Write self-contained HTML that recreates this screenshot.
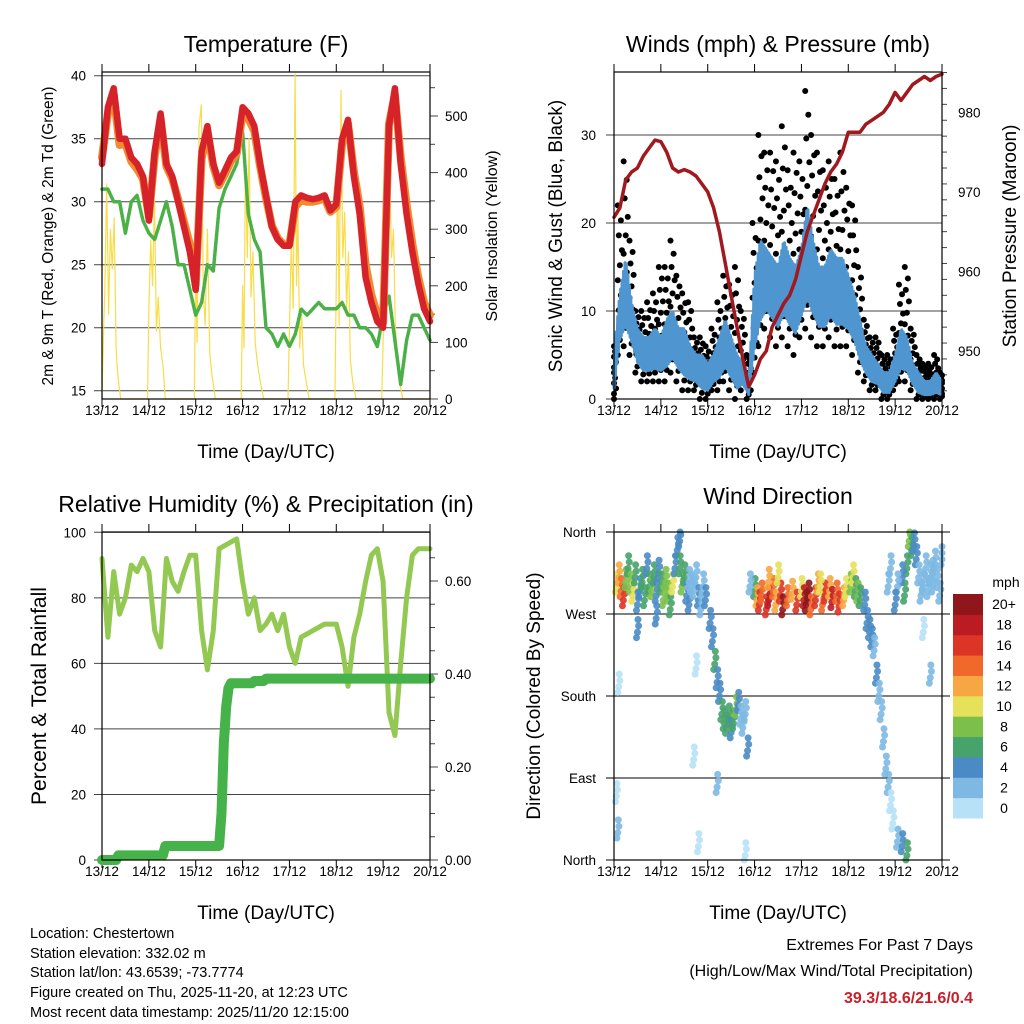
<!DOCTYPE html>
<html><head><meta charset="utf-8"><style>
html,body{margin:0;padding:0;background:#fff;}
svg{display:block;font-family:"Liberation Sans",sans-serif;}
</style></head><body>
<svg id="fig" width="1024" height="1024" viewBox="0 0 1024 1024" xmlns="http://www.w3.org/2000/svg">
<rect width="1024" height="1024" fill="#fff"/>
<g id="layer"></g>
<text x="266" y="52" font-size="23" text-anchor="middle">Temperature (F)</text>
<text x="778" y="52" font-size="23" text-anchor="middle">Winds (mph) &amp; Pressure (mb)</text>
<text x="266" y="512" font-size="23" text-anchor="middle">Relative Humidity (%) &amp; Precipitation (in)</text>
<text x="778" y="504" font-size="23" text-anchor="middle">Wind Direction</text>
<text x="266" y="458" font-size="19" text-anchor="middle">Time (Day/UTC)</text>
<text x="778" y="458" font-size="19" text-anchor="middle">Time (Day/UTC)</text>
<text x="266" y="919" font-size="19" text-anchor="middle">Time (Day/UTC)</text>
<text x="778" y="919" font-size="19" text-anchor="middle">Time (Day/UTC)</text>
<text transform="translate(53,236) rotate(-90)" font-size="15.5" text-anchor="middle">2m &amp; 9m T (Red, Orange) &amp; 2m Td (Green)</text>
<text transform="translate(497,236) rotate(-90)" font-size="16" text-anchor="middle">Solar Insolation (Yellow)</text>
<text transform="translate(562,236) rotate(-90)" font-size="19" text-anchor="middle">Sonic Wind &amp; Gust (Blue, Black)</text>
<text transform="translate(1016,236) rotate(-90)" font-size="19" text-anchor="middle">Station Pressure (Maroon)</text>
<text transform="translate(46,696) rotate(-90)" font-size="21" text-anchor="middle">Percent &amp; Total Rainfall</text>
<text transform="translate(540,696) rotate(-90)" font-size="19" text-anchor="middle">Direction (Colored By Speed)</text>
<g font-size="14.5">
<text x="30" y="938">Location: Chestertown</text>
<text x="30" y="958">Station elevation: 332.02 m</text>
<text x="30" y="977">Station lat/lon: 43.6539; -73.7774</text>
<text x="30" y="997">Figure created on Thu, 2025-11-20, at 12:23 UTC</text>
</g>
<text x="30" y="1017" font-size="14.5">Most recent data timestamp: 2025/11/20 12:15:00</text>
<text x="973" y="950" font-size="16" text-anchor="end">Extremes For Past 7 Days</text>
<text x="973" y="976" font-size="16" text-anchor="end">(High/Low/Max Wind/Total Precipitation)</text>
<text x="973" y="1003" font-size="16" font-weight="bold" fill="#c8202a" text-anchor="end">39.3/18.6/21.6/0.4</text>
</svg>
<script>
const dayLabels=["13/12","14/12","15/12","16/12","17/12","18/12","19/12","20/12"];
const t3=[];for(let i=0;i<=56;i++)t3.push(i/8);
const tempRed=[33,37.5,39,35,35,33.5,33,32,28.5,34,37,33,32,30,28,26,23,34,36,33,31.5,32.5,33.5,34,37.5,37,36,33,30.5,28,27,26.5,26.5,30,30.5,30.3,30.2,30.3,30.5,29.3,29.8,35,36.5,32,29,24,22,20.5,20,36,39,33,29,26,23.5,21.5,20.5];
const tempOrange=[33.5,37,38.5,34.5,34.6,33.2,32.6,31.8,28.8,33.6,36.6,32.8,31.8,30.2,28.4,26.6,23.4,33.4,35.6,32.8,31.3,32.2,33.2,33.8,37,36.6,35.6,32.8,30.3,28.1,27.1,26.6,26.6,29.6,30.1,30,30,30.1,30.3,29.2,29.6,34.6,36.2,32.4,29.6,25,22.6,21,20.4,36.2,38.5,33.5,29.8,26.6,24,22,21];
const dewGreen=[31,31,30,30,27.5,30,30.5,28.5,27.5,27,28.5,30,28,25,25,23,21,22,25,24.5,29.5,31,32,33,35.5,29,27,26,20,19.5,18.5,19.5,18.5,19.5,21.5,21,21.5,22,21.5,21.5,21.5,22,21,21,20,20,19.5,18.5,21,22.5,19,15.5,19,21,21,20,19];
const solarT=[0,0.03,0.06,0.1,0.14,0.18,0.22,0.26,0.3,0.34,0.4,0.97,1.0,1.04,1.08,1.12,1.16,1.2,1.25,1.3,1.35,1.42,1.97,2.0,2.03,2.07,2.12,2.16,2.2,2.25,2.3,2.35,2.42,2.97,3.0,3.03,3.06,3.1,3.14,3.18,3.22,3.27,3.32,3.38,3.45,3.97,4.0,4.04,4.08,4.12,4.15,4.18,4.22,4.26,4.3,4.36,4.42,4.97,5.0,5.03,5.06,5.1,5.14,5.18,5.22,5.26,5.3,5.35,5.42,5.97,6.0,6.03,6.06,6.1,6.14,6.18,6.22,6.26,6.3,6.35,6.42,7.0];
const solarV=[0,110,190,380,150,300,230,320,90,40,0,0,160,280,200,350,120,180,90,60,0,0,0,240,100,480,520,200,130,300,80,40,0,0,200,90,420,250,460,180,260,100,60,30,0,0,120,280,160,575,200,330,90,150,60,30,0,0,210,440,130,545,250,330,160,260,70,30,0,0,100,220,480,360,390,250,300,130,80,30,0,0];
const windLo=[0,5,6,5,3,2,2,2,2,2,3,2,1,1,1,0,0,1,1,2,1,0,1,0,3,6,8,7,6,7,6,5,7,8,7,6,6,7,6,6,6,5,3,2,1,1,0,0,1,2,2,1,0,0,0,0,0];
const windHi=[5,12,16,11,8,7,7,8,7,9,10,8,8,6,5,5,4,5,7,9,7,5,4,2,14,18,17,16,15,18,16,15,17,22,18,15,15,17,16,16,14,12,9,6,5,4,3,3,5,8,7,4,3,2,2,3,2];
const gustHi=[6,22,27,18,10,10,11,12,15,15,18,14,12,11,7,7,6,8,11,14,13,15,10,5,20,30,28,28,27,31,26,28,27,35,30,28,26,27,25,28,24,22,15,9,7,7,5,5,8,13,15,8,5,4,4,5,3];
const pressure=[966.8,968,971.5,972.5,973,974.5,975.5,976.5,976.3,975,973,972.5,972.8,972.5,972,971,970,968,965,961,957,953,949,945.5,947,949,950,953,954.5,956,957,959,962,965,967,969,971,972.5,973.5,975,977.5,977.5,977.5,978.5,979,979.5,980,981,982.5,981.5,982.5,983.5,984,984.5,984,984.5,984.8];
const rh=[92,68,88,75,80,90,88,92,88,70,65,92,85,82,88,93,93,70,58,70,95,96,97,98,85,75,80,70,72,75,70,75,65,60,68,69,70,71,72,72,72,65,53,68,75,85,93,95,85,45,38,60,80,93,95,95,95];
const precipT=[0,0.3,0.35,1.3,1.35,2.5,2.55,2.6,2.65,2.7,2.75,3.2,3.25,3.45,3.5,7];
const precipV=[0,0,0.01,0.01,0.03,0.03,0.1,0.25,0.33,0.37,0.38,0.38,0.385,0.385,0.39,0.39];
const dirT=[0.05,0.1,0.15,0.2,0.25,0.3,0.35,0.4,0.45,0.5,0.55,0.6,0.65,0.7,0.75,0.8,0.85,0.9,0.95,1.0,1.05,1.1,1.15,1.2,1.25,1.3,1.35,1.4,1.45,1.5,1.55,1.6,1.65,1.7,1.75,1.8,1.85,1.9,1.95,2.05,2.1,2.15,2.2,2.25,2.3,2.35,2.4,2.45,2.5,2.55,2.6,2.65,2.7,2.75,2.8,2.85,1.75,1.7,2.2,0.1,0.05,0.08,1.8,2.8,3.0,3.05,3.1,3.15,3.25,3.3,3.4,3.45,3.55,3.6,3.7,3.8,3.9,4.0,4.05,4.1,4.15,4.2,4.3,4.35,4.45,4.5,4.6,4.65,4.75,4.8,4.9,4.95,5.05,5.1,5.15,5.2,5.25,3.5,3.3,4.4,5.35,5.4,5.45,5.5,5.55,5.6,5.65,5.7,5.75,5.8,5.85,5.9,5.95,6.05,6.15,6.25,6.3,6.35,6.25,6.2,6.15,6.05,6.0,5.9,5.85,6.45,6.5,6.55,6.6,6.65,6.7,6.75,6.8,6.85,6.9,6.95,6.6,6.75,7.0,0.5,0.9,1.4,2.9,1.6,6.4,6.8];
const dirD=[300,310,295,285,305,320,300,290,310,280,295,305,285,320,300,295,310,290,315,300,285,305,290,275,300,320,340,350,300,310,290,280,300,295,310,285,275,300,285,260,240,215,195,180,160,150,145,155,140,150,165,170,155,145,160,120,210,110,80,190,70,30,15,5,295,285,280,290,275,285,295,280,290,275,285,292,280,295,285,280,290,275,285,300,280,290,295,283,290,278,285,295,300,310,295,290,285,310,305,300,280,260,250,240,230,200,180,160,130,100,80,60,40,20,15,5,350,340,320,290,310,300,280,320,300,330,310,290,300,320,295,310,300,325,305,290,250,200,330,250,265,320,300,305,345,315];
const dirS=[10,12,14,16,8,6,8,10,6,4,4,6,6,4,6,8,6,4,4,6,8,8,8,6,10,4,4,4,8,6,4,4,2,2,2,4,2,2,4,4,4,6,4,4,6,6,6,6,4,6,8,4,2,2,2,4,0,0,2,0,0,2,0,0,6,12,16,14,16,18,14,12,16,20,14,12,16,10,18,20,20,14,16,12,14,16,12,18,14,16,12,10,8,10,6,8,6,10,12,10,4,4,4,4,2,4,2,2,2,2,2,0,0,2,4,6,8,6,6,6,4,2,4,2,2,4,2,2,2,2,2,2,2,2,2,2,0,2,2,4,4,6,2,2,4,2];
const speedColors=["#b6e1f6","#7db9e3","#4a8bc5","#47a36c","#7cc04b","#e5e15a","#f6a743","#f0692a","#dc3527","#bb1c24","#8f161b"];
const speedLabels=["0","2","4","6","8","10","12","14","16","18","20+"];

const NS="http://www.w3.org/2000/svg";
const layer=document.getElementById('layer');
function el(tag,attrs,parent){const e=document.createElementNS(NS,tag);for(const k in attrs)e.setAttribute(k,attrs[k]);(parent||layer).appendChild(e);return e;}
function txt(x,y,s,size,anchor,parent){const e=el('text',{x:x,y:y,'font-size':size,'text-anchor':anchor},parent);e.textContent=s;return e;}
function scale(d0,d1,r0,r1){return v=>r0+(v-d0)/(d1-d0)*(r1-r0);}

function timeAxis(g,x0,x1,yb,yt,ylab){
  const xs=scale(0,7,x0,x1);
  for(let i=0;i<8;i++){
    el('line',{x1:xs(i),x2:xs(i),y1:yb,y2:yb+8,stroke:'#000','stroke-width':1},g);
    el('line',{x1:xs(i),x2:xs(i),y1:yt,y2:yt-8,stroke:'#000','stroke-width':1},g);
    const lb=txt(xs(i),ylab,dayLabels[i],13.5,'middle',g);
    
    
  }
  return xs;
}
function polyline(g,xsArr,ysArr,color,w,name){
  const p=el('polyline',{points:xsArr.map((x,i)=>x.toFixed(1)+','+ysArr[i].toFixed(1)).join(' '),fill:'none',stroke:color,'stroke-width':w,'stroke-linejoin':'round','stroke-linecap':'round'},g);
  
  
  return p;
}
function hgrid(g,x0,x1,y,color){el('line',{x1:x0-8,x2:x1,y1:y,y2:y,stroke:color||'#444','stroke-width':1},g);}

(function(){
  const g=el('g',{});
  
  
  const X0=102,X1=430,YT=72,YB=399;
  const ys=scale(15,40,390.7,75.7), yr=scale(0,500,399,116);
  const xs=timeAxis(g,X0,X1,YB,YT,415);
  for(let v=15;v<=40;v+=5){hgrid(g,X0,X1,ys(v));const l=txt(86,ys(v)+5,String(v),13.5,'end',g);}
  for(let v=0;v<=550;v+=50){el('line',{x1:X1,x2:X1+(v%100?5:8),y1:yr(v),y2:yr(v),stroke:'#444'},g);}
  for(let v=0;v<=500;v+=100){const l=txt(445,yr(v)+5,String(v),13.5,'start',g);}
  polyline(g,solarT.map(xs),solarV.map(yr),'#f8dc4a',1.2,'solar-line');
  polyline(g,t3.map(xs),dewGreen.map(ys),'#4cb048',3.5,'dewpoint-line').setAttribute('stroke-dasharray','2.5 1.5');
  polyline(g,t3.map(xs),tempOrange.map(ys),'#f28a30',8,'temp-9m-line');
  polyline(g,t3.map(xs),tempRed.map(ys),'#d6232a',6.5,'temp-2m-line');
  el('rect',{x:X0,y:YT,width:X1-X0,height:YB-YT,fill:'none',stroke:'#000','stroke-width':1.2},g);
})();

(function(){
  const g=el('g',{});
  
  
  const X0=614,X1=942,YT=72,YB=399;
  const ys=scale(0,30,399,135), yp=scale(950,980,351,112.3);
  const xs=timeAxis(g,X0,X1,YB,YT,415);
  for(let v=0;v<=30;v+=10){hgrid(g,X0,X1,ys(v));const l=txt(596,ys(v)+5,String(v),13.5,'end',g);}
  for(let v=945;v<=985;v+=2){el('line',{x1:X1,x2:X1+(v%10?5:8),y1:yp(v),y2:yp(v),stroke:'#444'},g);}
  for(let v=950;v<=980;v+=10){const l=txt(958,yp(v)+5,String(v),13.5,'start',g);}
  for(let i=0;i<t3.length;i++){
    const n=10;
    for(let k=0;k<=n;k++){
      const v=windLo[i]+(gustHi[i]-windLo[i])*k/n;
      const tt=t3[i]+((k*7)%5-2)*0.022;
      const c=el('circle',{cx:xs(Math.max(0,Math.min(7,tt))),cy:ys(v),r:3,fill:'#000'},g);
      
      
    }
  }
  const zx=[],zy=[];
  for(let i=0;i<t3.length-1;i++){
    for(let k=0;k<8;k++){
      const f=k/8;
      const lo=windLo[i]+(windLo[i+1]-windLo[i])*f, hi=windHi[i]+(windHi[i+1]-windHi[i])*f;
      zx.push(xs(t3[i]+f/8));
      zy.push(ys(k%2?hi:lo+(hi-lo)*0.25));
    }
  }
  polyline(g,zx,zy,'#4f96d0',3,'wind-line');
  polyline(g,t3.map(xs),pressure.map(yp),'#a0191e',3.5,'pressure-line');
  el('rect',{x:X0,y:YT,width:X1-X0,height:YB-YT,fill:'none',stroke:'#000','stroke-width':1.2},g);
})();

(function(){
  const g=el('g',{});
  
  
  const X0=102,X1=430,YT=532,YB=860;
  const ys=scale(0,100,860,532.3), yr=scale(0,0.4,860,674);
  const xs=timeAxis(g,X0,X1,YB,YT,876);
  for(let v=0;v<=100;v+=20){hgrid(g,X0,X1,ys(v));const l=txt(86,ys(v)+5,String(v),13.5,'end',g);}
  for(let v=0;v<=0.7;v+=0.05){el('line',{x1:X1,x2:X1+(Math.round(v*100)%20?5:8),y1:yr(v),y2:yr(v),stroke:'#444'},g);}
  [0,0.2,0.4,0.6].forEach(v=>{const l=txt(445,yr(v)+5,v.toFixed(2),13.5,'start',g);});
  polyline(g,t3.map(xs),rh.map(ys),'#93c952',5,'rh-line');
  polyline(g,precipT.map(xs),precipV.map(yr),'#46b24a',10,'precip-line');
  el('rect',{x:X0,y:YT,width:X1-X0,height:YB-YT,fill:'none',stroke:'#000','stroke-width':1.2},g);
})();

(function(){
  const g=el('g',{});
  
  
  const X0=614,X1=942,YT=532,YB=860;
  const ys=scale(0,360,860,532);
  const xs=timeAxis(g,X0,X1,YB,YT,876);
  const names=["North","East","South","West","North"];
  for(let i=0;i<5;i++){const y=ys(i*90);el('line',{x1:X0-8,x2:X1+8,y1:y,y2:y,stroke:'#000'},g);const l=txt(596,y+5,names[i],13.5,'end',g);}
  const offs=[[0,0],[0.025,7],[-0.02,-6],[0.012,14]];
  for(let i=0;i<dirT.length;i++){
    const ci=Math.min(10,Math.floor(dirS[i]/2));
    for(const o of offs){
      const c=el('circle',{cx:xs(Math.max(0,Math.min(7,dirT[i]+o[0]))),cy:ys(Math.max(0,Math.min(360,dirD[i]+o[1]))),r:3.5,fill:speedColors[ci],'fill-opacity':0.9},g);
      
      
    }
  }
  el('rect',{x:X0,y:YT,width:X1-X0,height:YB-YT,fill:'none',stroke:'#000','stroke-width':1.2},g);
  const lg=el('g',{});
  
  
  txt(1006,587,'mph',14,'middle',lg);
  const bh=(818-594)/11;
  for(let i=0;i<11;i++){
    const y=594+(10-i)*bh;
    const r=el('rect',{x:953,y:y,width:30,height:bh+0.5,fill:speedColors[i]},lg);
    
    
    txt(1004,y+bh/2+5,speedLabels[i],14,'middle',lg);
  }
})();
</script>
</body></html>
